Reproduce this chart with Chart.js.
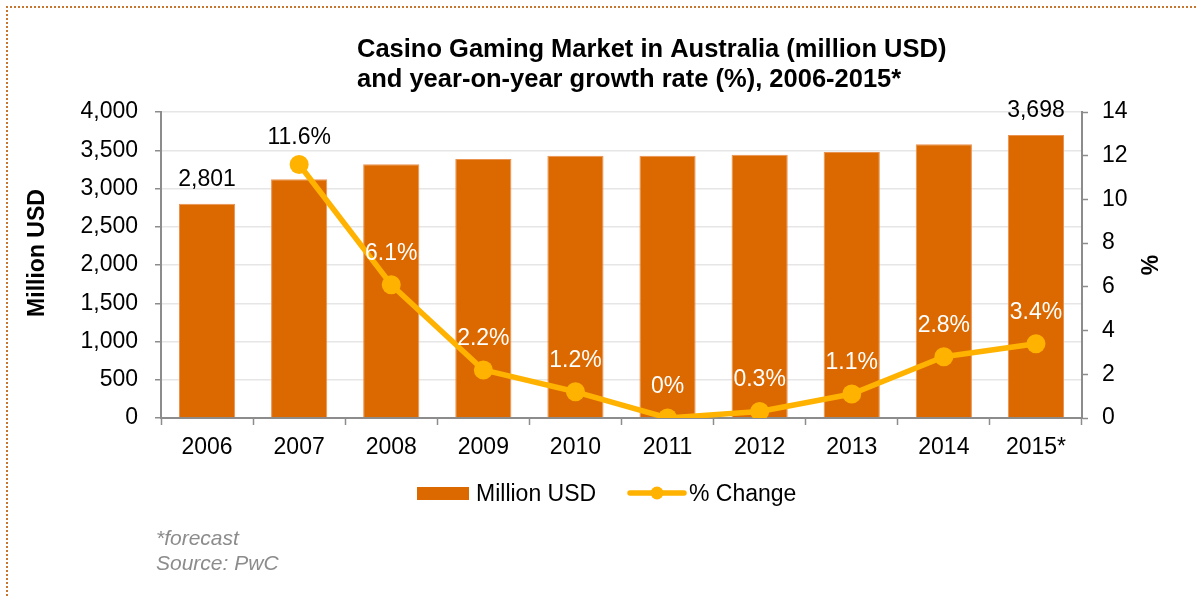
<!DOCTYPE html>
<html>
<head>
<meta charset="utf-8">
<title>Casino Gaming Market in Australia</title>
<script src="https://cdn.jsdelivr.net/npm/chart.js@4.4.1/dist/chart.umd.min.js"></script>
<style>
    html, body { margin: 0; padding: 0; background: #fff; }
    #wrap { width: 1198px; height: 596px; }
</style>
</head>
<body>
<div id="wrap"><canvas id="casinoChart" width="1198" height="596"></canvas></div>
<script>
// Данные рынка
const years = ['2006', '2007', '2008', '2009', '2010', '2011', '2012', '2013', '2014', '2015*'];
const marketUsd = [2801, 3121, 3317, 3386, 3429, 3429, 3442, 3477, 3578, 3698];
const growthPct = [null, 11.6, 6.1, 2.2, 1.2, 0, 0.3, 1.1, 2.8, 3.4];
const labelledBars = [0, 9];

const titleLines = [
    'Casino Gaming Market in Australia (million USD)',
    'and year-on-year growth rate (%), 2006-2015*'
];
const footnotes = ['*forecast', 'Source: PwC'];

const FONT = '"Liberation Sans", Arial, sans-serif';
const BAR_COLOR = '#DC6900';
const LINE_COLOR = '#FFB300';
const AXIS_COLOR = '#8C8C8C';

// Подписи, заголовки, легенда и рамка
const decorPlugin = {
    id: 'decor',
    beforeDraw(chart) {
        const ctx = chart.ctx;
        ctx.save();
        ctx.fillStyle = '#fff';
        ctx.fillRect(0, 0, chart.width, chart.height);
        ctx.restore();
    },
    afterDatasetsDraw(chart) {
        const ctx = chart.ctx;
        const bars = chart.getDatasetMeta(0).data;
        const points = chart.getDatasetMeta(1).data;
        ctx.save();
        ctx.font = '23px ' + FONT;
        ctx.textAlign = 'center';
        ctx.textBaseline = 'alphabetic';

        labelledBars.forEach(i => {
            const bar = bars[i];
            ctx.fillStyle = '#000';
            ctx.fillText(marketUsd[i].toLocaleString('en-US'), bar.x, bar.y - 18);
        });

        points.forEach((pt, i) => {
            if (growthPct[i] === null) return;
            // белый текст внутри столбца, чёрный — над ним
            const inside = pt.y - 25 > bars[i].y + 8;
            const y = inside ? pt.y - 25 : pt.y - 20;
            ctx.fillStyle = inside ? '#fff' : '#000';
            ctx.fillText(growthPct[i] + '%', pt.x, y);
        });
        ctx.restore();
    },
    afterDraw(chart) {
        const ctx = chart.ctx;
        ctx.save();

        // пунктирная рамка
        ctx.strokeStyle = '#C8762E';
        ctx.lineWidth = 2;
        ctx.setLineDash([2, 2]);
        ctx.beginPath();
        ctx.moveTo(7, chart.height);
        ctx.lineTo(7, 7);
        ctx.lineTo(chart.width, 7);
        ctx.stroke();
        ctx.setLineDash([]);

        // заголовок
        ctx.fillStyle = '#000';
        ctx.font = 'bold 25.5px ' + FONT;
        ctx.textAlign = 'left';
        ctx.textBaseline = 'alphabetic';
        ctx.fillText(titleLines[0], 357, 57);
        ctx.fillText(titleLines[1], 357, 87);

        // названия осей
        ctx.font = 'bold 23px ' + FONT;
        ctx.textAlign = 'center';
        ctx.textBaseline = 'middle';
        ctx.save();
        ctx.translate(38, 253);
        ctx.rotate(-Math.PI / 2);
        ctx.fillText('Million USD', 0, 0);
        ctx.restore();
        ctx.save();
        ctx.translate(1152, 265);
        ctx.rotate(-Math.PI / 2);
        ctx.fillText('%', 0, 0);
        ctx.restore();

        // легенда
        ctx.fillStyle = BAR_COLOR;
        ctx.fillRect(417, 487, 52, 13);
        ctx.strokeStyle = LINE_COLOR;
        ctx.lineWidth = 5.5;
        ctx.lineCap = 'round';
        ctx.beginPath();
        ctx.moveTo(630, 493);
        ctx.lineTo(684, 493);
        ctx.stroke();
        ctx.fillStyle = LINE_COLOR;
        ctx.beginPath();
        ctx.arc(657, 493, 6.5, 0, Math.PI * 2);
        ctx.fill();
        ctx.fillStyle = '#000';
        ctx.font = '23px ' + FONT;
        ctx.textAlign = 'left';
        ctx.textBaseline = 'alphabetic';
        ctx.fillText('Million USD', 476, 501);
        ctx.fillText('% Change', 689, 501);

        // примечания
        ctx.fillStyle = '#8C8C8C';
        ctx.font = 'italic 21px ' + FONT;
        ctx.fillText(footnotes[0], 156, 545);
        ctx.fillText(footnotes[1], 156, 570);
        ctx.restore();
    }
};

const tickFont = { family: FONT, size: 23 };

new Chart(document.getElementById('casinoChart').getContext('2d'), {
    type: 'bar',
    data: {
        labels: years,
        datasets: [
            {
                type: 'bar',
                label: 'Million USD',
                data: marketUsd,
                backgroundColor: BAR_COLOR,
                borderColor: '#EA9250',
                borderWidth: 1,
                categoryPercentage: 1,
                barPercentage: 0.61,
                yAxisID: 'y',
                order: 2
            },
            {
                type: 'line',
                label: '% Change',
                data: growthPct,
                borderColor: LINE_COLOR,
                backgroundColor: LINE_COLOR,
                borderWidth: 5.5,
                borderJoinStyle: 'round',
                borderCapStyle: 'round',
                pointRadius: 9.5,
                pointBorderWidth: 0,
                pointBackgroundColor: LINE_COLOR,
                tension: 0,
                yAxisID: 'y1',
                order: 1
            }
        ]
    },
    options: {
        responsive: false,
        animation: false,
        events: [],
        layout: { padding: { top: 112, left: 0, right: 0, bottom: 0 } },
        plugins: {
            legend: { display: false },
            title: { display: false },
            tooltip: { enabled: false }
        },
        scales: {
            x: {
                grid: {
                    display: true,
                    drawOnChartArea: false,
                    offset: true,
                    tickLength: 7,
                    tickColor: AXIS_COLOR,
                    tickWidth: 1.5
                },
                border: { color: AXIS_COLOR, width: 2 },
                ticks: { font: tickFont, color: '#000', padding: 9, maxRotation: 0 },
                afterFit(scale) { scale.height = 178; }
            },
            y: {
                position: 'left',
                min: 0,
                max: 4000,
                ticks: {
                    stepSize: 500,
                    padding: 17,
                    font: tickFont,
                    color: '#000',
                    callback: v => v.toLocaleString('en-US')
                },
                grid: {
                    color: '#E6E6E6',
                    lineWidth: 1.5,
                    tickLength: 6,
                    tickColor: AXIS_COLOR,
                    tickWidth: 1.5
                },
                border: { color: AXIS_COLOR, width: 2 },
                afterFit(scale) { scale.width = 161; }
            },
            y1: {
                position: 'right',
                min: 0,
                max: 14,
                ticks: { stepSize: 2, padding: 14, font: tickFont, color: '#000' },
                grid: {
                    drawOnChartArea: false,
                    tickLength: 6,
                    tickColor: AXIS_COLOR,
                    tickWidth: 1.5
                },
                border: { color: AXIS_COLOR, width: 2 },
                afterFit(scale) { scale.width = 116; }
            }
        }
    },
    plugins: [decorPlugin]
});
</script>
</body>
</html>
